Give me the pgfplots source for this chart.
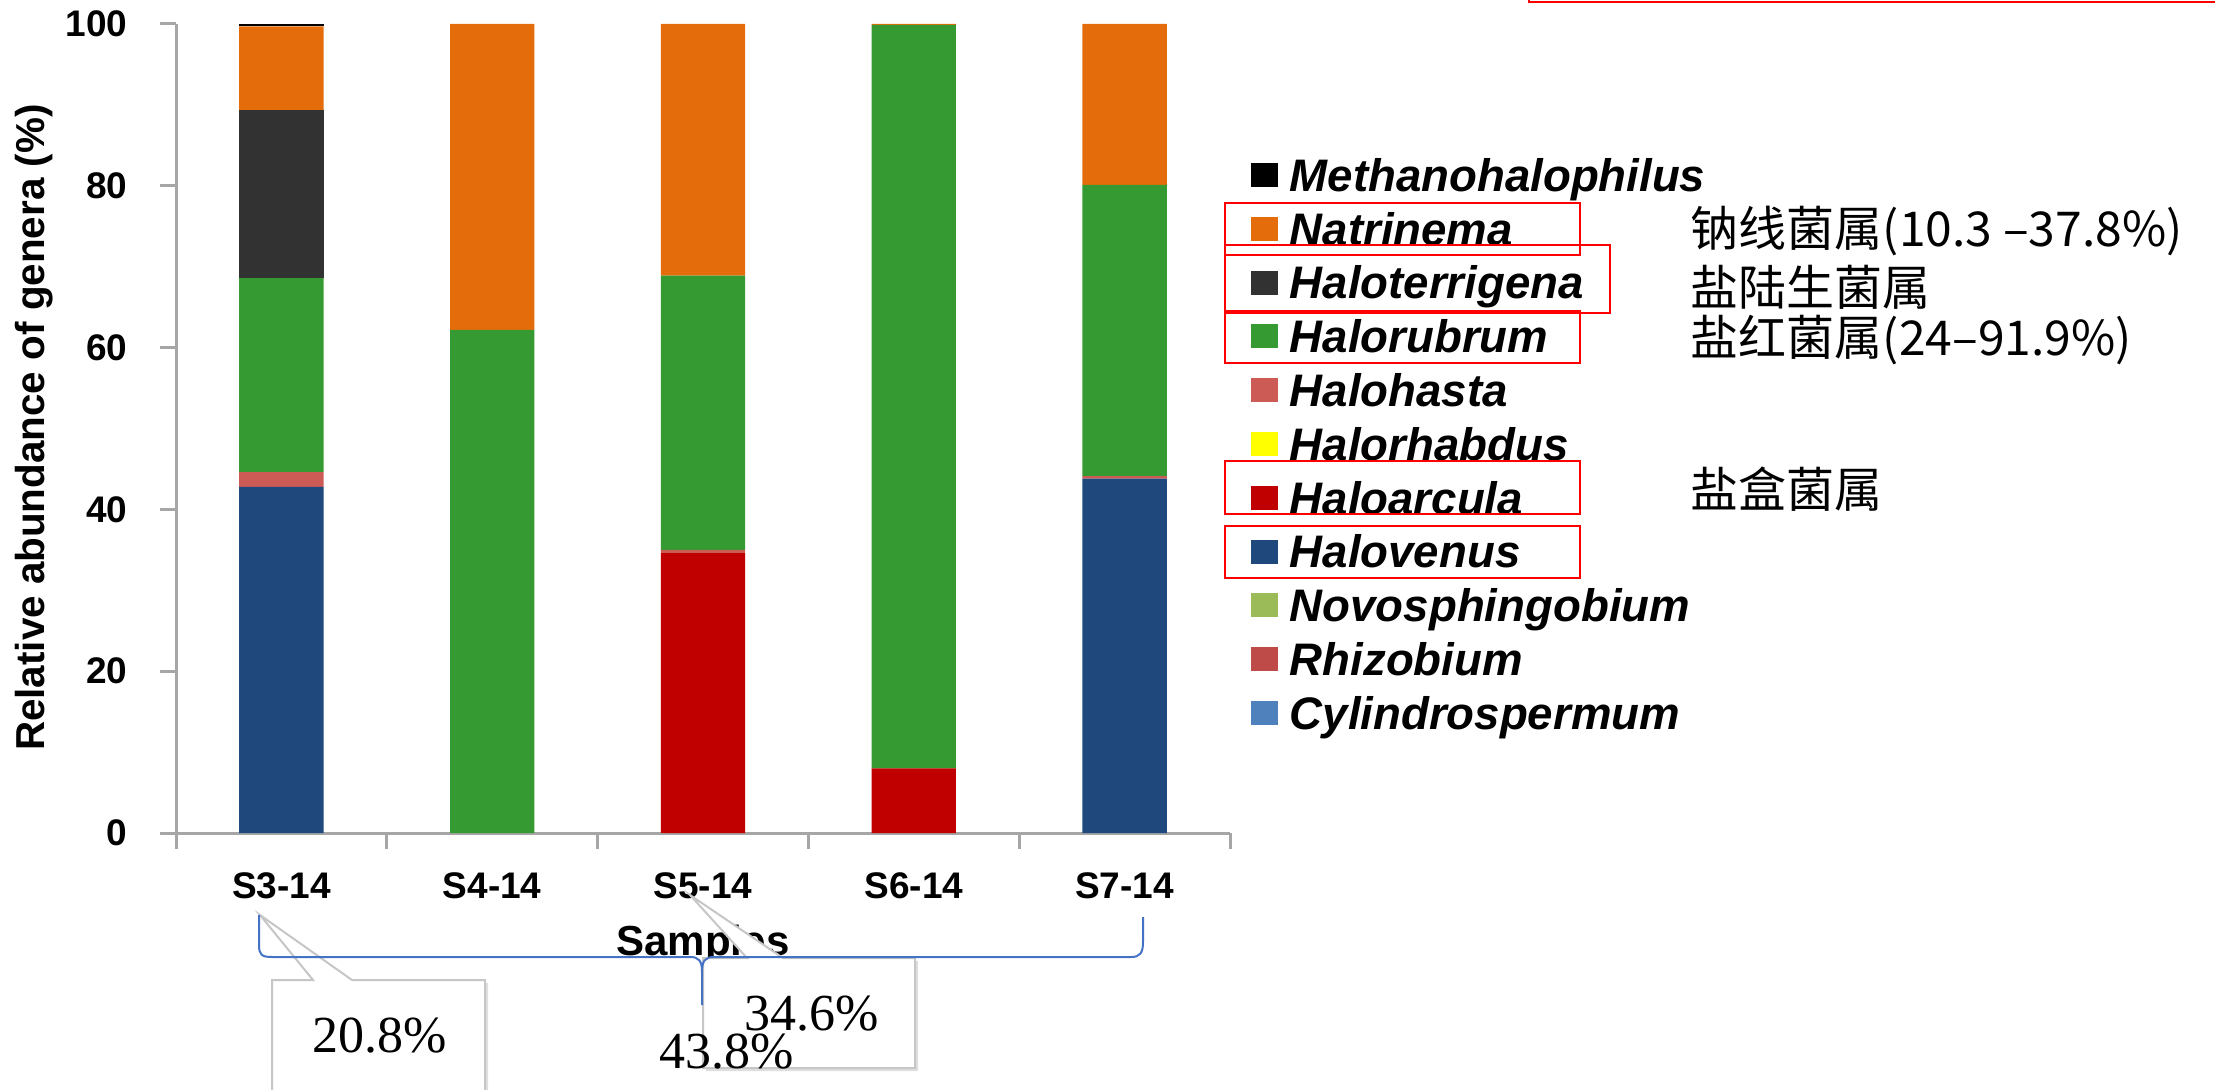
\documentclass[border=0pt]{standalone}
\usepackage{pgfplots}
\pgfplotsset{compat=1.18}
\usepackage{fontspec}
\setmainfont{Liberation Sans}
\newfontfamily\cjk{Noto Sans CJK SC}
\newfontfamily\timesf{Liberation Serif}
\usetikzlibrary{shadows}
\definecolor{cMeth}{HTML}{000000}
\definecolor{cNatr}{HTML}{E46C0A}
\definecolor{cHter}{HTML}{323232}
\definecolor{cHrub}{HTML}{369A33}
\definecolor{cHhas}{HTML}{CC5A55}
\definecolor{cHrha}{HTML}{FFFF00}
\definecolor{cHarc}{HTML}{C00000}
\definecolor{cHven}{HTML}{1F497D}
\definecolor{cNovo}{HTML}{9BBB59}
\definecolor{cRhiz}{HTML}{BE4B48}
\definecolor{cCyli}{HTML}{4F81BD}
\definecolor{axgray}{HTML}{A6A6A6}
\definecolor{bracecol}{HTML}{4472C4}
\begin{document}
\begin{tikzpicture}
\useasboundingbox (0pt,0pt) rectangle (553.75pt,-272.5pt);
\begin{axis}[
  at={(44pt,-208.25pt)}, anchor=south west,
  scale only axis, width=263.5pt, height=202.25pt,
  ybar stacked, bar width=0.4,
  xmin=-0.5, xmax=4.5, ymin=0, ymax=100, enlargelimits=false,
  axis lines*=left,
  axis line style={draw=axgray, line width=0.75pt},
  tick style={draw=axgray, line width=0.75pt},
  tick align=outside, major tick length=4pt,
  xtick={-0.5,0.5,1.5,2.5,3.5,4.5}, xticklabels={},
  extra x ticks={0,1,2,3,4},
  extra x tick labels={S3-14,S4-14,S5-14,S6-14,S7-14},
  extra x tick style={major tick length=0pt},
  ytick={0,20,40,60,80,100},
  /pgf/number format/assume math mode=true,
  ticklabel style={font=\bfseries\fontsize{9.25}{11}\selectfont},
  xticklabel style={anchor=north, inner sep=0pt, yshift=-9.75pt},
  yticklabel style={anchor=east, inner sep=0pt, xshift=-8pt},
  xlabel={Samples},
  xlabel style={at={(axis description cs:0.5,-0.1384)}, anchor=center, font=\bfseries\fontsize{10.5}{12}\selectfont},
  ylabel={Relative abundance of genera (\%)},
  ylabel style={at={(axis description cs:-0.1347,0.501)}, anchor=center, font=\bfseries\fontsize{10.1}{12}\selectfont},
  reverse legend,
  legend cell align=left,
  legend style={at={(axis description cs:1.019,0.8362)}, anchor=north west,
    draw=none, fill=none, inner sep=0pt, row sep=2.45pt, column sep=3pt,
    font=\bfseries\itshape\fontsize{11.4}{13}\selectfont,
    nodes={inner sep=0pt, text height=8.5pt, text depth=2.5pt}},
  legend image code/.code={\fill[#1] (0pt,-1.9pt) rectangle (6.75pt,4.1pt);},
]
\addplot[fill=cCyli, draw=none] coordinates {(0,0) (1,0) (2,0) (3,0) (4,0)};
\addlegendentry{Cylindrospermum}
\addplot[fill=cRhiz, draw=none] coordinates {(0,0) (1,0) (2,0) (3,0) (4,0)};
\addlegendentry{Rhizobium}
\addplot[fill=cNovo, draw=none] coordinates {(0,0) (1,0) (2,0) (3,0) (4,0)};
\addlegendentry{Novosphingobium}
\addplot[fill=cHven, draw=none] coordinates {(0,42.8) (1,0) (2,0) (3,0) (4,43.8)};
\addlegendentry{Halovenus}
\addplot[fill=cHarc, draw=none] coordinates {(0,0) (1,0) (2,34.6) (3,8.0) (4,0)};
\addlegendentry{Haloarcula}
\addplot[fill=cHrha, draw=none] coordinates {(0,0) (1,0) (2,0) (3,0) (4,0)};
\addlegendentry{Halorhabdus}
\addplot[fill=cHhas, draw=none] coordinates {(0,1.8) (1,0) (2,0.4) (3,0) (4,0.3)};
\addlegendentry{Halohasta}
\addplot[fill=cHrub, draw=none] coordinates {(0,24.0) (1,62.2) (2,33.9) (3,91.9) (4,36.0)};
\addlegendentry{Halorubrum}
\addplot[fill=cHter, draw=none] coordinates {(0,20.8) (1,0) (2,0) (3,0) (4,0)};
\addlegendentry{Haloterrigena}
\addplot[fill=cNatr, draw=none] coordinates {(0,10.3) (1,37.8) (2,31.1) (3,0.1) (4,19.9)};
\addlegendentry{Natrinema}
\addplot[fill=cMeth, draw=none] coordinates {(0,0.3) (1,0) (2,0) (3,0) (4,0)};
\addlegendentry{Methanohalophilus}
\end{axis}
\begin{scope}[x=0.25pt, y=-0.25pt]
  % callouts
  \draw[draw=gray!45, line width=0.5pt, fill=white,
        drop shadow={shadow xshift=0.8pt, shadow yshift=-0.8pt, opacity=0.25}]
    (272,980) -- (313,980) -- (260,915) -- (352,980) -- (485,980) -- (485,1100) -- (272,1100) -- cycle;
  \draw[draw=gray!45, line width=0.5pt, fill=white,
        drop shadow={shadow xshift=0.8pt, shadow yshift=-0.8pt, opacity=0.25}]
    (703,958) -- (747,958) -- (690,895) -- (783,958) -- (915,958) -- (915,1068) -- (703,1068) -- cycle;
  % brace
  \draw[bracecol, line width=0.5pt]
    (259,915) -- (259,945) .. controls (259,955) and (262,957) .. (272,957)
    -- (690,957) .. controls (699,957) and (702,961) .. (702,972) -- (702,1005);
  \draw[bracecol, line width=0.5pt]
    (702,972) .. controls (702,961) and (705,957) .. (714,957)
    -- (1131,957) .. controls (1140,957) and (1143,953) .. (1143,942) -- (1143,917);
  % percentages
  \node[font=\timesf\fontsize{13}{15}\selectfont, inner sep=0pt] at (380,1036) {20.8\%};
  \node[font=\timesf\fontsize{13}{15}\selectfont, inner sep=0pt] at (812,1014) {34.6\%};
  \node[font=\timesf\fontsize{13}{15}\selectfont, inner sep=0pt] at (727,1052) {43.8\%};
  % red boxes
  \draw[red, line width=0.55pt] (1225,203) rectangle (1580,255);
  \draw[red, line width=0.55pt] (1225,245) rectangle (1610,313);
  \draw[red, line width=0.55pt] (1225,311) rectangle (1580,363);
  \draw[red, line width=0.55pt] (1225,461) rectangle (1580,514);
  \draw[red, line width=0.55pt] (1225,526) rectangle (1580,578);
  \draw[red, line width=0.55pt] (1529,-6) -- (1529,2) -- (2222,2);
  % chinese notes
  \node[anchor=west, inner sep=0pt, font=\cjk\fontsize{12}{14}\selectfont] at (1690,231) {钠线菌属(10.3 –37.8\%)};
  \node[anchor=west, inner sep=0pt, font=\cjk\fontsize{12}{14}\selectfont] at (1690,287) {盐陆生菌属};
  \node[anchor=west, inner sep=0pt, font=\cjk\fontsize{12}{14}\selectfont] at (1690,340) {盐红菌属(24–91.9\%)};
  \node[anchor=west, inner sep=0pt, font=\cjk\fontsize{12}{14}\selectfont] at (1690,489) {盐盒菌属};
\end{scope}
\end{tikzpicture}
\end{document}
